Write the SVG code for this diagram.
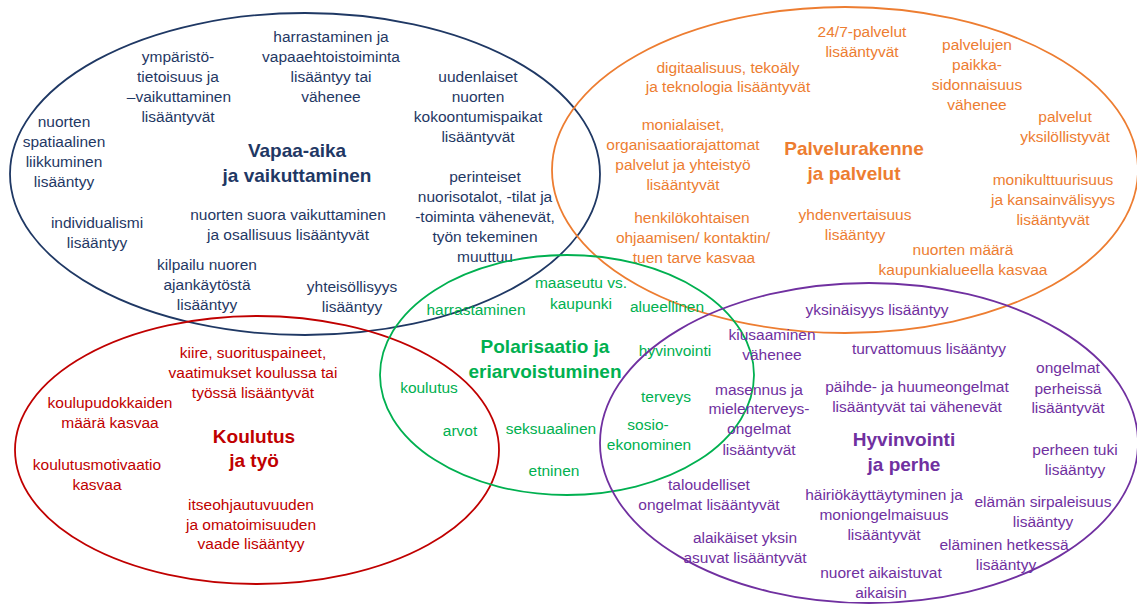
<svg xmlns="http://www.w3.org/2000/svg" width="1137" height="604" viewBox="0 0 1137 604">
<style>
text{font-family:"Liberation Sans",Arial,sans-serif;font-size:15.5px;text-anchor:middle}
.t{font-size:19px;font-weight:bold}
.e{fill:none;stroke-width:1.8}
.nv{fill:#1F3864}.or{fill:#ED7D31}.rd{fill:#C00000}.gr{fill:#00B050}.pu{fill:#7030A0}
</style>
<rect width="1137" height="604" fill="#fff"/>
<g id="vapaa-aika">
<ellipse class="e" cx="305" cy="174" rx="295" ry="161" stroke="#1F3864"/>
<g class="nv">
<text x="331" y="42">harrastaminen ja</text>
<text x="331" y="62">vapaaehtoistoiminta</text>
<text x="331" y="82">lisääntyy tai</text>
<text x="331" y="102">vähenee</text>
<text x="178" y="62">ympäristö-</text>
<text x="178" y="82">tietoisuus ja</text>
<text x="179" y="102">–vaikuttaminen</text>
<text x="178" y="122">lisääntyvät</text>
<text x="64" y="127">nuorten</text>
<text x="64" y="147">spatiaalinen</text>
<text x="64" y="167">liikkuminen</text>
<text x="64" y="187">lisääntyy</text>
<text class="t" x="297" y="157">Vapaa-aika</text>
<text class="t" x="297" y="182">ja vaikuttaminen</text>
<text x="97" y="228">individualismi</text>
<text x="97" y="248">lisääntyy</text>
<text x="288" y="220">nuorten suora vaikuttaminen</text>
<text x="288" y="240">ja osallisuus lisääntyvät</text>
<text x="207" y="270">kilpailu nuoren</text>
<text x="207" y="290">ajankäytöstä</text>
<text x="207" y="310">lisääntyy</text>
<text x="352" y="292">yhteisöllisyys</text>
<text x="352" y="312">lisääntyy</text>
<text x="478" y="82">uudenlaiset</text>
<text x="478" y="102">nuorten</text>
<text x="478" y="122">kokoontumispaikat</text>
<text x="478" y="142">lisääntyvät</text>
<text x="485" y="182">perinteiset</text>
<text x="485" y="202">nuorisotalot, -tilat ja</text>
<text x="485" y="222">-toiminta vähenevät,</text>
<text x="485" y="242">työn tekeminen</text>
<text x="485" y="262">muuttuu</text>
</g>
</g>
<g id="palvelut">
<ellipse class="e" cx="845" cy="170" rx="293" ry="163" stroke="#ED7D31"/>
<g class="or">
<text x="728" y="73">digitaalisuus, tekoäly</text>
<text x="728" y="92">ja teknologia lisääntyvät</text>
<text x="683" y="130">monialaiset,</text>
<text x="683" y="150">organisaatiorajattomat</text>
<text x="683" y="170">palvelut ja yhteistyö</text>
<text x="683" y="190">lisääntyvät</text>
<text x="692" y="223">henkilökohtaisen</text>
<text x="693" y="243">ohjaamisen/ kontaktin/</text>
<text x="694" y="263">tuen tarve kasvaa</text>
<text x="862" y="37">24/7-palvelut</text>
<text x="862" y="57">lisääntyvät</text>
<text x="977" y="50">palvelujen</text>
<text x="977" y="70">paikka-</text>
<text x="977" y="90">sidonnaisuus</text>
<text x="977" y="110">vähenee</text>
<text x="1065" y="122">palvelut</text>
<text x="1065" y="142">yksilöllistyvät</text>
<text class="t" x="854" y="155">Palvelurakenne</text>
<text class="t" x="854" y="180">ja palvelut</text>
<text x="1053" y="185">monikulttuurisuus</text>
<text x="1053" y="205">ja kansainvälisyys</text>
<text x="1053" y="225">lisääntyvät</text>
<text x="855" y="220">yhdenvertaisuus</text>
<text x="855" y="240">lisääntyy</text>
<text x="963" y="255">nuorten määrä</text>
<text x="963" y="275">kaupunkialueella kasvaa</text>
</g>
</g>
<g id="koulutus">
<ellipse class="e" cx="257" cy="450" rx="242" ry="134" stroke="#C00000"/>
<g class="rd">
<text x="253" y="358">kiire, suorituspaineet,</text>
<text x="253" y="378">vaatimukset koulussa tai</text>
<text x="253" y="398">työssä lisääntyvät</text>
<text x="110" y="408">koulupudokkaiden</text>
<text x="110" y="428">määrä kasvaa</text>
<text class="t" x="254" y="443">Koulutus</text>
<text class="t" x="254" y="467">ja työ</text>
<text x="97" y="470">koulutusmotivaatio</text>
<text x="97" y="490">kasvaa</text>
<text x="251" y="510">itseohjautuvuuden</text>
<text x="251" y="530">ja omatoimisuuden</text>
<text x="251" y="549">vaade lisääntyy</text>
</g>
</g>
<g id="polarisaatio">
<ellipse class="e" cx="567" cy="375" rx="187" ry="120" stroke="#00B050"/>
<g class="gr">
<text x="581" y="288">maaseutu vs.</text>
<text x="581" y="309">kaupunki</text>
<text x="476" y="315">harrastaminen</text>
<text x="667" y="312">alueellinen</text>
<text class="t" x="545" y="353">Polarisaatio ja</text>
<text class="t" x="545" y="378">eriarvoistuminen</text>
<text x="675" y="356">hyvinvointi</text>
<text x="429" y="393">koulutus</text>
<text x="666" y="402">terveys</text>
<text x="648" y="430">sosio-</text>
<text x="649" y="450">ekonominen</text>
<text x="460" y="436">arvot</text>
<text x="551" y="434">seksuaalinen</text>
<text x="554" y="476">etninen</text>
</g>
</g>
<g id="hyvinvointi">
<ellipse class="e" cx="869" cy="443" rx="269" ry="160" stroke="#7030A0"/>
<g class="pu">
<text x="877" y="315">yksinäisyys lisääntyy</text>
<text x="772" y="340">kiusaaminen</text>
<text x="772" y="360">vähenee</text>
<text x="929" y="354">turvattomuus lisääntyy</text>
<text x="759" y="395">masennus ja</text>
<text x="759" y="414">mielenterveys-</text>
<text x="759" y="434">ongelmat</text>
<text x="759" y="455">lisääntyvät</text>
<text x="917" y="392">päihde- ja huumeongelmat</text>
<text x="917" y="412">lisääntyvät tai vähenevät</text>
<text x="1068" y="373">ongelmat</text>
<text x="1068" y="394">perheissä</text>
<text x="1068" y="413">lisääntyvät</text>
<text class="t" x="904" y="446">Hyvinvointi</text>
<text class="t" x="904" y="471">ja perhe</text>
<text x="1075" y="455">perheen tuki</text>
<text x="1075" y="475">lisääntyy</text>
<text x="709" y="490">taloudelliset</text>
<text x="709" y="510">ongelmat lisääntyvät</text>
<text x="884" y="500">häiriökäyttäytyminen ja</text>
<text x="884" y="520">moniongelmaisuus</text>
<text x="884" y="540">lisääntyvät</text>
<text x="1043" y="507">elämän sirpaleisuus</text>
<text x="1043" y="527">lisääntyy</text>
<text x="745" y="543">alaikäiset yksin</text>
<text x="745" y="563">asuvat lisääntyvät</text>
<text x="1004" y="550">eläminen hetkessä</text>
<text x="1006" y="570">lisääntyy</text>
<text x="881" y="578">nuoret aikaistuvat</text>
<text x="881" y="598">aikaisin</text>
</g>
</g>
<g id="connectors"/>
</svg>
